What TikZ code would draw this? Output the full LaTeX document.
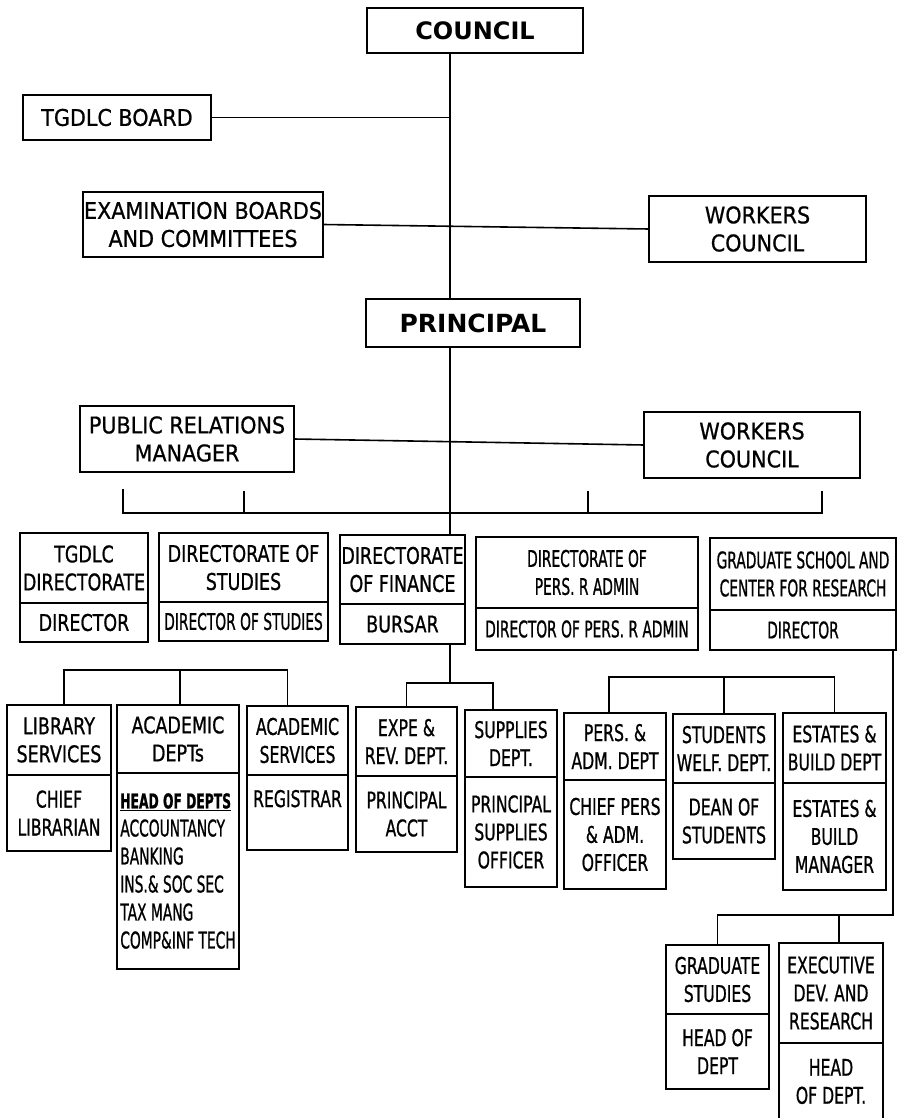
\documentclass[tikz,border=0pt]{standalone}
\usepackage{fontspec}
\setmainfont{DejaVu Sans}
\newfontfamily\wideface[FakeStretch=0.9,FakeBold=0.8]{DejaVu Sans}
\newfontfamily\midface[FakeStretch=0.76,FakeBold=0.8]{DejaVu Sans}
\newfontfamily\narrowface[FakeStretch=0.68,FakeBold=0.8]{DejaVu Sans}
\newfontfamily\tightface[FakeStretch=0.6,FakeBold=0.8]{DejaVu Sans}
\usetikzlibrary{positioning}
\tikzset{cell/.style 2 args={draw, line width=1.8pt,
    inner sep=0pt, outer sep=0pt, align=center,
    minimum width=#1, minimum height=#2},
  facewide/.style={font=\wideface\fontsize{23}{28}\selectfont},
  facemid/.style={font=\midface\fontsize{23}{28}\selectfont},
  facenarrow/.style={font=\narrowface\fontsize{23}{28}\selectfont},
  facetight/.style={font=\tightface\fontsize{23}{28}\selectfont},
  facehead/.style={font=\bfseries\fontsize{24}{28}\selectfont},
  orgline/.style={line width=1.6pt}
}

\begin{document}
\begin{tikzpicture}[x=1pt,y=-1pt]
    \useasboundingbox (0,0) rectangle (899,1118);
    \coordinate (spine) at (450,0);

    % boards round the council
    \node[cell={216pt}{45pt}, anchor=north west, facehead] (council) at (367,8) {COUNCIL};
    \node[cell={188pt}{45pt}, anchor=north west, facewide] (tgdlcboard) at (23,95) {TGDLC BOARD};
    \node[cell={240pt}{65pt}, anchor=north west, facewide] (exam) at (83,192) {EXAMINATION BOARDS\\AND COMMITTEES};
    \node[cell={217pt}{66pt}, anchor=north west, facewide] (workers) at (649,196) {WORKERS\\COUNCIL};
    \node[cell={214pt}{48pt}, anchor=north west, font=\bfseries\fontsize{25}{28}\selectfont] (principal) at (366,299) {PRINCIPAL};
    \node[cell={214pt}{66pt}, anchor=north west, facewide] (prman) at (80,406) {PUBLIC RELATIONS\\MANAGER};
    \node[cell={216pt}{66pt}, anchor=north west, facewide] (workerstwo) at (644,412) {WORKERS\\COUNCIL};

    \draw[orgline] (council.south -| spine) -- (principal.north -| spine);
    \draw[orgline] (tgdlcboard.east) -- (tgdlcboard.east -| spine);
    \draw[orgline] (exam.east) -- (workers.west);
    \draw[orgline] (prman.east) -- (workerstwo.west);

    % directorates
    \coordinate (pbarL) at (123,513);
    \coordinate (pbarR) at (822,513);
    \draw[orgline] (pbarL) ++(0,-24) -- (pbarL) -- (pbarR) -- ++(0,-22);
    \foreach \tx in {244,588}
        \draw[orgline] (\tx,513) -- ++(0,-22);

    \node[cell={128pt}{70pt}, anchor=north west, facemid] (tgdlcdir) at (20,533) {TGDLC\\DIRECTORATE};
    \node[cell={128pt}{39pt}, facemid, below=0pt of tgdlcdir] (tgdlcdir-low) {DIRECTOR};
    \node[cell={169pt}{69pt}, anchor=north west, facemid] (studiesdir) at (159,533) {DIRECTORATE OF\\STUDIES};
    \node[cell={169pt}{39pt}, facetight, below=0pt of studiesdir] (studiesdir-low) {DIRECTOR OF STUDIES};
    \node[cell={125pt}{69pt}, anchor=north west, facemid] (financedir) at (340,535) {DIRECTORATE\\OF FINANCE};
    \node[cell={125pt}{40pt}, facemid, below=0pt of financedir] (financedir-low) {BURSAR};
    \node[cell={222pt}{71pt}, anchor=north west, facetight] (persdir) at (476,537) {DIRECTORATE OF\\PERS. R ADMIN};
    \node[cell={222pt}{42pt}, facetight, below=0pt of persdir] (persdir-low) {DIRECTOR OF PERS. R ADMIN};
    \node[cell={186pt}{72pt}, anchor=north west, facetight] (gradschool) at (710,538) {GRADUATE SCHOOL AND\\CENTER FOR RESEARCH};
    \node[cell={186pt}{40pt}, facetight, below=0pt of gradschool] (gradschool-low) {DIRECTOR};

    \draw[orgline] (principal.south -| spine) -- (financedir.north -| spine);

    % departments
    \node[cell={104pt}{70pt}, anchor=north west, facemid] (library) at (7,705) {LIBRARY\\SERVICES};
    \node[cell={104pt}{76pt}, facenarrow, below=0pt of library] (library-low) {CHIEF\\LIBRARIAN};
    \node[cell={122pt}{68pt}, anchor=north west, facemid] (acadepts) at (117,705) {ACADEMIC\\DEPTs};
    \node[cell={122pt}{196pt}, facetight, align=left, below=0pt of acadepts] (acadepts-low)
        {{\fontsize{20.5}{28}\selectfont\bfseries\underline{HEAD OF DEPTS}}\\ACCOUNTANCY\\BANKING\\INS.\& SOC SEC\\TAX MANG\\COMP\&INF TECH};
    \node[cell={101pt}{69pt}, anchor=north west, facenarrow] (acaserv) at (247,706) {ACADEMIC\\SERVICES};
    \node[cell={101pt}{75pt}, facenarrow, below=0pt of acaserv] (acaserv-low) {REGISTRAR\\\mbox{}};
    \node[cell={101pt}{69pt}, anchor=north west, facenarrow] (expe) at (356,707) {EXPE \&\\REV. DEPT.};
    \node[cell={101pt}{76pt}, facenarrow, below=0pt of expe] (expe-low) {PRINCIPAL\\ACCT};
    \node[cell={92pt}{67pt}, anchor=north west, facenarrow] (supplies) at (465,710) {SUPPLIES\\DEPT.};
    \node[cell={92pt}{110pt}, facenarrow, below=0pt of supplies] (supplies-low) {PRINCIPAL\\SUPPLIES\\OFFICER};
    \node[cell={102pt}{67pt}, anchor=north west, facenarrow] (persadm) at (564,713) {PERS. \&\\ADM. DEPT};
    \node[cell={102pt}{109pt}, facenarrow, below=0pt of persadm] (persadm-low) {CHIEF PERS\\\& ADM.\\OFFICER};
    \node[cell={102pt}{69pt}, anchor=north west, facenarrow] (welfare) at (673,714) {STUDENTS\\WELF. DEPT.};
    \node[cell={102pt}{76pt}, facenarrow, below=0pt of welfare] (welfare-low) {DEAN OF\\STUDENTS};
    \node[cell={103pt}{70pt}, anchor=north west, facenarrow] (estates) at (783,713) {ESTATES \&\\BUILD DEPT};
    \node[cell={103pt}{107pt}, facenarrow, below=0pt of estates] (estates-low) {ESTATES \&\\BUILD\\MANAGER};
    \node[cell={103pt}{69pt}, anchor=north west, facenarrow] (gradstud) at (666,945) {GRADUATE\\STUDIES};
    \node[cell={103pt}{75pt}, facenarrow, below=0pt of gradstud] (gradstud-low) {HEAD OF\\DEPT};
    \node[cell={104pt}{100pt}, anchor=north west, facenarrow] (execdev) at (779,943) {EXECUTIVE\\DEV. AND\\RESEARCH};
    \node[cell={104pt}{77pt}, facenarrow, below=0pt of execdev] (execdev-low) {HEAD\\OF DEPT.};

    \coordinate (studbar) at (180,670);
    \draw[orgline] ([xshift=5pt]library.north) |- (studbar) -| ([xshift=-10pt]acaserv.north);
    \draw[orgline] (studbar) -- (acadepts.north -| studbar);

    \coordinate (finbar) at (450,683);
    \draw[orgline] (financedir-low.south -| spine) -- (finbar);
    \draw[orgline] (expe.north) |- (finbar) -| ([xshift=-18pt]supplies.north);

    \coordinate (persbar) at (724,677);
    \draw[orgline] ([xshift=-6pt]persadm.north) |- (persbar) -| (estates.north);
    \draw[orgline] (persbar) -- (welfare.north);

    \coordinate (gradbar) at (839,915);
    \draw[orgline] ([xshift=-3pt]gradschool-low.south east) |- (gradbar) -| (gradstud.north);
    \draw[orgline] (gradbar) -- (execdev.north -| gradbar);
\end{tikzpicture}
\end{document}
